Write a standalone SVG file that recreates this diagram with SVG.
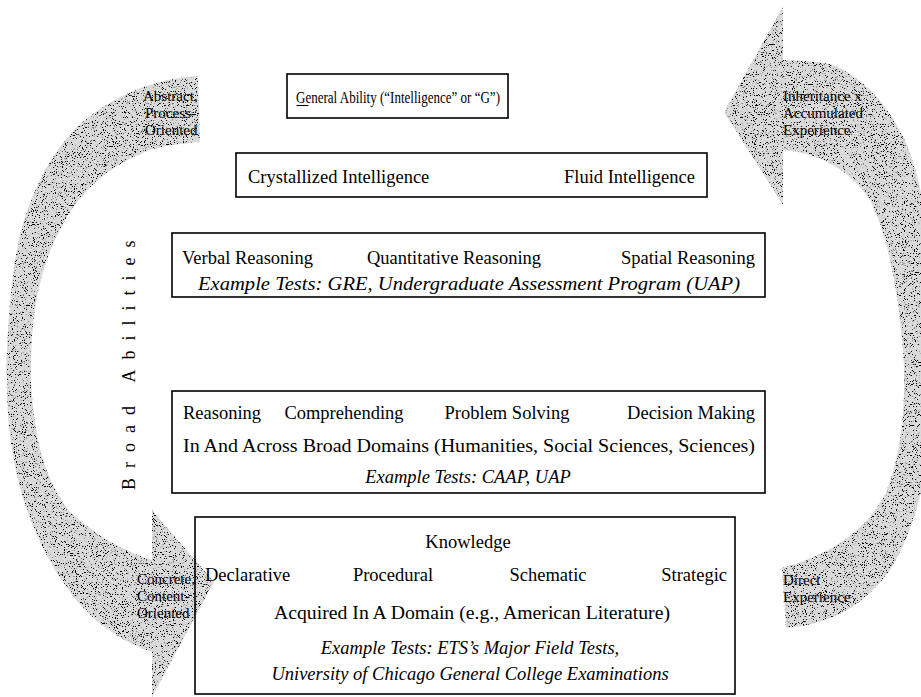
<svg xmlns="http://www.w3.org/2000/svg" width="921" height="697" viewBox="0 0 921 697">
<defs>
<filter id="stip" x="0" y="0" width="1" height="1" filterUnits="objectBoundingBox">
<feTurbulence type="fractalNoise" baseFrequency="0.9" numOctaves="2" seed="7" result="n"/>
<feColorMatrix in="n" type="matrix" values="0 0 0 0 0  0 0 0 0 0  0 0 0 0 0  -14 0 0 0 5.6" result="dots"/>
<feComposite in="dots" in2="SourceAlpha" operator="in" result="d2"/>
<feMerge><feMergeNode in="SourceGraphic"/><feMergeNode in="d2"/></feMerge>
</filter>
<style>
.box{fill:none;stroke:#000;stroke-width:1.6}
.t{font-family:"Liberation Serif","Times New Roman",serif;font-size:18.5px;fill:#000}
.i{font-style:italic}
.m{text-anchor:middle}
.e{text-anchor:end}
.lab{font-family:"Liberation Serif","Times New Roman",serif;font-size:15px;fill:#000}
.arr{fill:#dadada;filter:url(#stip)}
.ba{font-family:"Liberation Serif","Times New Roman",serif;font-size:18px;letter-spacing:10px;fill:#000}
</style>
</defs>
<rect width="921" height="697" fill="#fff"/>
<g id="connectors">
<path class="arr" d="M198,76 C160,78 120,92 85,120 C50,150 25,200 15,260 C5,330 4,400 12,450 C20,500 40,560 85,610 C105,630 130,645 152,652 L152,697 L214,582 L152,510 L152,560 C125,552 95,535 70,512 C45,480 34,440 31,380 C30,320 38,270 60,230 C80,190 110,165 150,150 C168,145 185,143 200,142 Z"/>
<path class="arr" d="M783,60 L783,7 L724,112 L783,205 L783,150 C820,153 850,170 870,200 C888,235 898,290 903,350 C907,410 900,460 885,495 C865,530 835,553 782,568 L786,628 C830,625 865,605 890,570 C915,530 930,470 935,400 C940,300 930,200 905,140 C885,100 860,75 830,64 C815,61 800,60 783,60 Z"/>
</g>
<g id="label-abstract">
<text class="lab" x="143" y="101">Abstract,</text>
<text class="lab" x="145" y="118">Process-</text>
<text class="lab" x="145" y="135">Oriented</text>
</g>
<g id="label-concrete">
<text class="lab" x="137" y="584">Concrete,</text>
<text class="lab" x="137" y="601">Content-</text>
<text class="lab" x="137" y="618">Oriented</text>
</g>
<g id="label-inheritance">
<text class="lab" x="783" y="101">Inheritance x</text>
<text class="lab" x="783" y="118">Accumulated</text>
<text class="lab" x="783" y="135">Experience</text>
</g>
<g id="label-direct">
<text class="lab" x="783" y="585">Direct</text>
<text class="lab" x="783" y="602">Experience</text>
</g>
<g id="label-broad">
<text class="ba" transform="translate(135,490) rotate(-90)">Broad Abilities</text>
</g>
<g id="node-general">
<rect class="box" x="287" y="74" width="221" height="44"/>
<text class="t" x="296" y="103" style="font-size:16.5px" textLength="204" lengthAdjust="spacingAndGlyphs">General Ability (“Intelligence” or “G”)</text>
<line x1="296.5" y1="105.5" x2="308.5" y2="105.5" stroke="#000" stroke-width="1.1"/>
</g>
<g id="node-crystal-fluid">
<rect class="box" x="236" y="153" width="471" height="44"/>
<text class="t" x="248" y="183">Crystallized Intelligence</text>
<text class="t e" x="695" y="183">Fluid Intelligence</text>
</g>
<g id="node-reasoning">
<rect class="box" x="172" y="233" width="593" height="64"/>
<text class="t" x="182" y="264">Verbal Reasoning</text>
<text class="t m" x="454" y="264">Quantitative Reasoning</text>
<text class="t e" x="755" y="264">Spatial Reasoning</text>
<text class="t i" x="198" y="290" style="font-size:19.5px" textLength="542" lengthAdjust="spacingAndGlyphs">Example Tests: GRE, Undergraduate Assessment Program (UAP)</text>
</g>
<g id="node-broad">
<rect class="box" x="172" y="391" width="593" height="102"/>
<text class="t" x="183" y="419">Reasoning</text>
<text class="t m" x="344" y="419">Comprehending</text>
<text class="t m" x="507" y="419">Problem Solving</text>
<text class="t e" x="755" y="419">Decision Making</text>
<text class="t" x="183" y="452" style="font-size:19.5px" textLength="572" lengthAdjust="spacingAndGlyphs">In And Across Broad Domains (Humanities, Social Sciences, Sciences)</text>
<text class="t i m" x="468" y="483">Example Tests: CAAP, UAP</text>
</g>
<g id="node-knowledge">
<rect class="box" x="195" y="517" width="540" height="177"/>
<text class="t m" x="468" y="548">Knowledge</text>
<text class="t" x="205" y="581">Declarative</text>
<text class="t m" x="393" y="581">Procedural</text>
<text class="t m" x="548" y="581">Schematic</text>
<text class="t e" x="727" y="581">Strategic</text>
<text class="t" x="274" y="619" style="font-size:19.5px" textLength="396" lengthAdjust="spacingAndGlyphs">Acquired In A Domain (e.g., American Literature)</text>
<text class="t i m" x="470" y="654">Example Tests: ETS’s Major Field Tests,</text>
<text class="t i m" x="470" y="680">University of Chicago General College Examinations</text>
</g>
</svg>
